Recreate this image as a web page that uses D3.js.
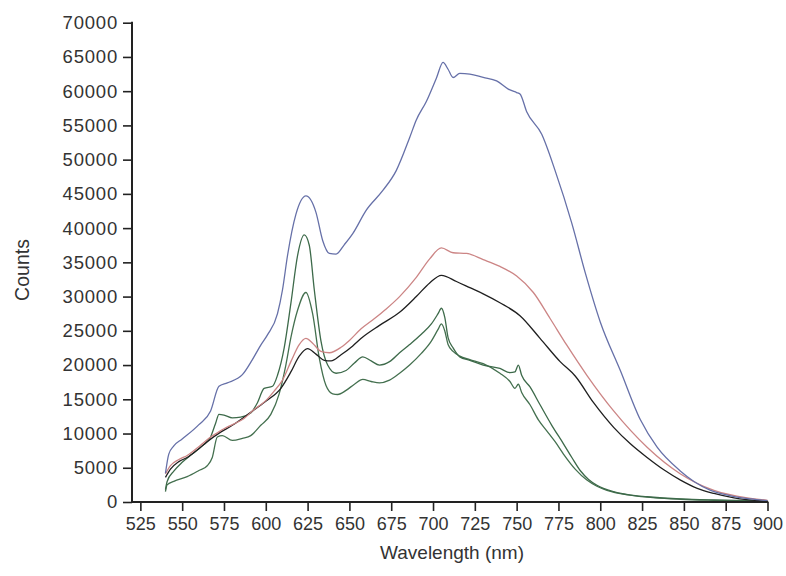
<!DOCTYPE html>
<html>
<head>
<meta charset="utf-8">
<script src="https://cdn.jsdelivr.net/npm/d3@7"></script>
<style>
  html, body { margin: 0; padding: 0; background: #fff; }
  svg { display: block; }
  text { font-family: "Liberation Sans", Arial, sans-serif; fill: #333; }
</style>
</head>
<body>
<svg id="chart" width="786" height="576"></svg>
<script>
// ---- data (wavelength in nm, counts) ----
const blueNm  = [540,542,545,550,560,567,572,577,586,592,597,601,607,610,613,618,624,630,634,638,642,647,652,660,670,678,686,690,696,702,706,709,712,716,722,730,738,745,750,752,756,765,773,783,791,800,812,824,834,848,856,866,878,890,900];
const blueVal = [4200,7000,8200,9200,11300,13300,16900,17400,18600,20800,22900,24400,27500,31000,36000,42000,44700,42300,38200,36300,36200,37600,39200,42600,45500,48400,53200,55800,58500,61900,64200,63200,62000,62600,62500,62000,61500,60300,59800,59600,57000,53700,48400,40700,33500,26300,19200,12000,8000,4500,3000,1700,900,450,200];

const redNm  = [540,543,548,553,561,566,571,575,580,587,593,600,605,610,615,620,624,628,633,638,645,650,657,665,672,680,690,698,705,712,720,730,740,750,760,770,780,792,808,828,848,868,888,900];
const redVal = [4100,5300,6200,6800,8300,9300,10100,10700,11300,12200,13500,14800,16200,17800,20500,23000,23900,23200,22000,21800,22600,23600,25300,26800,28200,30000,32800,35500,37100,36400,36300,35400,34400,33000,30600,26800,22900,18500,13300,8000,4100,1700,600,250];

const blackNm  = [540,543,548,553,561,566,573,580,591,600,609,615,620,625,630,635,639,645,652,658,668,680,690,698,705,714,722,730,740,752,764,776,785,796,808,818,828,838,848,858,868,880,900];
const blackVal = [3600,4800,5900,6500,8000,9000,10200,11200,13100,14700,16600,19000,21300,22400,21600,20700,20600,21500,22800,24100,25800,27700,30000,32000,33100,32200,31300,30400,29100,27200,23900,20500,18400,14500,10900,8500,6500,4700,3200,2000,1250,600,100];

const greenANm  = [540,541,545,550,556,562,567,570,572,575,580,585,591,595,599,604,607,611,615,619,623,626,629,633,637,642,648,653,658,663,668,674,680,686,693,699,703,705,707,709,712,716,722,730,740,746,749,751,753,758,764,771,778,783,788,793,798,808,818,828,848,868,900];
const greenAVal = [1800,3000,4500,5800,7000,8200,9500,11500,12800,12700,12300,12400,13000,14500,16600,16900,18500,22500,29000,36000,39000,37500,31000,23500,20000,18800,19200,20300,21200,20600,20000,20500,21800,23000,24500,26000,27500,28300,27000,24000,22500,21200,20700,20000,19500,18900,19000,20000,18500,16800,14200,11200,8500,6500,4600,3300,2450,1500,1000,770,450,290,150];

const greenBNm  = [540,541,545,553,560,565,568,571,574,580,586,591,597,603,608,612,615,619,624,628,632,636,640,643,648,653,658,663,668,674,680,686,693,699,703,705,707,709,712,716,722,730,740,746,749,751,753,758,763,768,773,778,785,792,798,804,818,833,848,868,900];
const greenBVal = [1500,2500,3000,3700,4600,5300,6500,9500,9700,9000,9300,9700,11200,12800,15800,20000,24000,28000,30600,27500,21000,17000,15800,15700,16300,17200,17900,17600,17400,17800,18800,20000,21700,23500,25200,26000,25000,23000,22000,21300,20800,20200,18800,17600,16600,17200,16000,14200,12000,10400,8800,7000,4800,3200,2300,1700,1000,600,400,250,100];

const xTicks = [525,550,575,600,625,650,675,700,725,750,775,800,825,850,875,900];
const yTicks = [0,5000,10000,15000,20000,25000,30000,35000,40000,45000,50000,55000,60000,65000,70000];

const seriesList = [
  {name: "greenB", nm: greenBNm, val: greenBVal, color: "#44704f"},
  {name: "greenA", nm: greenANm, val: greenAVal, color: "#3d6a4a"},
  {name: "black",  nm: blackNm,  val: blackVal,  color: "#1f1f1f"},
  {name: "red",    nm: redNm,    val: redVal,    color: "#cc8585"},
  {name: "blue",   nm: blueNm,   val: blueVal,   color: "#6670a8"}
];

// ---- layout ----
const svg = d3.select("#chart");
const x = d3.scaleLinear().domain([520, 900]).range([132, 767.5]);
const y = d3.scaleLinear().domain([0, 70000]).range([502, 22.7]);

// lines
const line = d3.line()
  .x(d => x(d[0]))
  .y(d => y(d[1]))
  .curve(d3.curveMonotoneX);

seriesList.forEach(s => {
  const pts = s.nm.map((n, i) => [n, s.val[i]]);
  svg.append("path")
    .datum(pts)
    .attr("fill", "none")
    .attr("stroke", s.color)
    .attr("stroke-width", 1.3)
    .attr("stroke-linejoin", "round")
    .attr("d", line);
});

// x axis
const xMinor = d3.range(525 - 12.5, 900.1, 12.5).filter(v => v >= 520 && !xTicks.includes(v));
const gx = svg.append("g").attr("transform", "translate(0,502)");
gx.call(d3.axisBottom(x).tickValues(xMinor).tickSize(5).tickFormat(""));
gx.call(d3.axisBottom(x).tickValues(xTicks).tickSize(9).tickPadding(6).tickFormat(d3.format("d")));
gx.selectAll(".domain").remove();
gx.selectAll("line").attr("stroke", "#222").attr("stroke-width", 1.6);
gx.selectAll("text").attr("font-size", 18).attr("fill", "#333");
svg.append("line").attr("x1", 131).attr("x2", 768.3).attr("y1", 502).attr("y2", 502)
  .attr("stroke", "#222").attr("stroke-width", 2);

// y axis
const yMinor = d3.range(2500, 70000, 5000);
const gy = svg.append("g").attr("transform", "translate(132,0)");
gy.call(d3.axisLeft(y).tickValues(yMinor).tickSize(4).tickFormat(""));
gy.call(d3.axisLeft(y).tickValues(yTicks).tickSize(9).tickPadding(5).tickFormat(d3.format("d")));
gy.selectAll(".domain").remove();
gy.selectAll("line").attr("stroke", "#222").attr("stroke-width", 1.6);
gy.selectAll("text").attr("font-size", 18.5).attr("fill", "#333").attr("letter-spacing", "0.8px");
svg.append("line").attr("x1", 132).attr("x2", 132).attr("y1", 21.8).attr("y2", 503)
  .attr("stroke", "#222").attr("stroke-width", 2);

// axis titles
svg.append("text")
  .attr("x", 452).attr("y", 559)
  .attr("text-anchor", "middle")
  .attr("font-size", 19)
  .text("Wavelength (nm)");

svg.append("text")
  .attr("transform", "translate(29,270) rotate(-90)")
  .attr("text-anchor", "middle")
  .attr("font-size", 19.5)
  .text("Counts");
</script>
</body>
</html>
